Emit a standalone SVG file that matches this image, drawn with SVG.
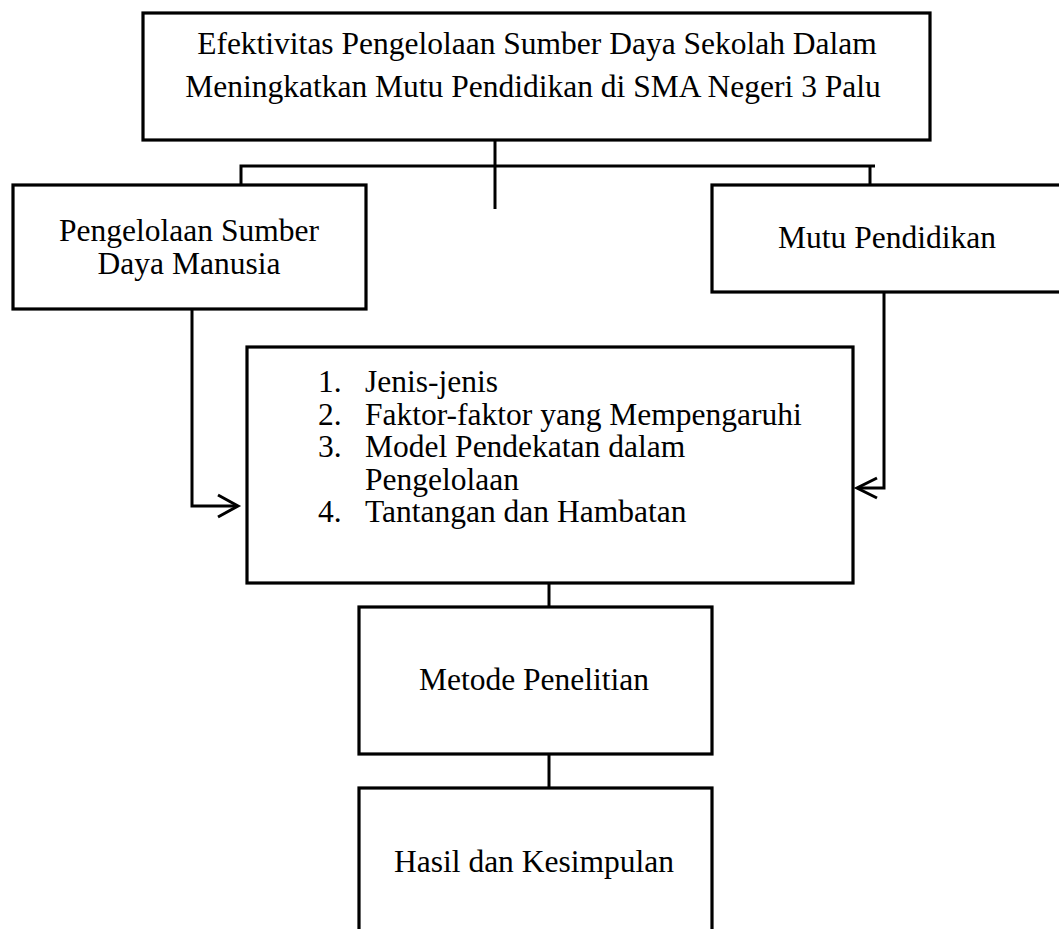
<svg xmlns="http://www.w3.org/2000/svg" width="1059" height="929" viewBox="0 0 1059 929">
  <style>
    .box { fill: #ffffff; stroke: #000000; stroke-width: 3.2; }
    .conn { fill: none; stroke: #000000; stroke-width: 3; }
    .t { font-family: "Liberation Serif", "Times New Roman", serif; font-size: 31.5px; fill: #000000; }
    .c { text-anchor: middle; }
  </style>
  <rect x="0" y="0" width="1059" height="929" fill="#ffffff"/>

  <g id="connectors">
    <path class="conn" d="M495 140 V209"/>
    <path class="conn" d="M241 185 V166 H875"/>
    <path class="conn" d="M870 166 V185"/>
    <path class="conn" d="M192 309 V506 H237"/>
    <path class="conn" d="M218 495 L238 506 L218 517"/>
    <path class="conn" d="M884 292 V488 H858"/>
    <path class="conn" d="M877 478 L857 488 L877 498"/>
    <path class="conn" d="M549 583 V607"/>
    <path class="conn" d="M549 754 V788"/>
  </g>

  <g id="node-title">
    <rect class="box" x="143" y="13" width="787" height="127"/>
    <text class="t c" x="537" y="54">Efektivitas Pengelolaan Sumber Daya Sekolah Dalam</text>
    <text class="t c" x="533" y="96.5">Meningkatkan Mutu Pendidikan di SMA Negeri 3 Palu</text>
  </g>

  <g id="node-sdm">
    <rect class="box" x="13" y="185" width="353" height="124"/>
    <text class="t c" x="189" y="241">Pengelolaan Sumber</text>
    <text class="t c" x="189" y="273.5">Daya Manusia</text>
  </g>

  <g id="node-mutu">
    <rect class="box" x="712" y="185" width="352" height="107"/>
    <text class="t c" x="887" y="248">Mutu Pendidikan</text>
  </g>

  <g id="node-list">
    <rect class="box" x="247" y="347" width="606" height="236"/>
    <text class="t" x="318" y="392">1.</text>
    <text class="t" x="365" y="392">Jenis-jenis</text>
    <text class="t" x="318" y="424.5">2.</text>
    <text class="t" x="365" y="424.5">Faktor-faktor yang Mempengaruhi</text>
    <text class="t" x="318" y="457">3.</text>
    <text class="t" x="365" y="457">Model Pendekatan dalam</text>
    <text class="t" x="365" y="489.5">Pengelolaan</text>
    <text class="t" x="318" y="522">4.</text>
    <text class="t" x="365" y="522">Tantangan dan Hambatan</text>
  </g>

  <g id="node-metode">
    <rect class="box" x="359" y="607" width="353" height="147"/>
    <text class="t c" x="534" y="690">Metode Penelitian</text>
  </g>

  <g id="node-hasil">
    <rect class="box" x="359" y="788" width="353" height="160"/>
    <text class="t c" x="534" y="872">Hasil dan Kesimpulan</text>
  </g>
</svg>
